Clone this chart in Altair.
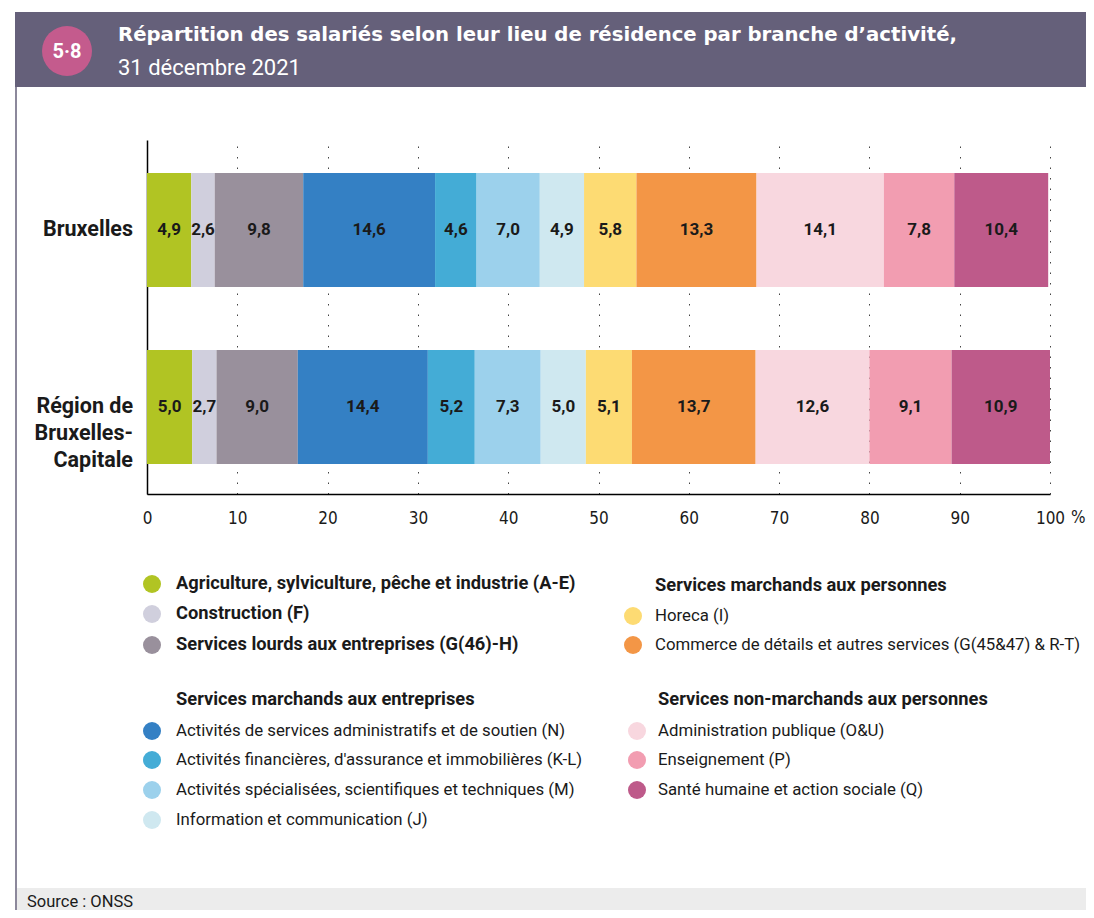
import altair as alt
import pandas as pd

# ---------------- data ----------------
regions = ["Bruxelles", "Région de\nBruxelles-\nCapitale"]
branches = [
    "Agriculture, sylviculture, pêche et industrie (A-E)",
    "Construction (F)",
    "Services lourds aux entreprises (G(46)-H)",
    "Activités de services administratifs et de soutien (N)",
    "Activités financières, d'assurance et immobilières (K-L)",
    "Activités spécialisées, scientifiques et techniques (M)",
    "Information et communication (J)",
    "Horeca (I)",
    "Commerce de détails et autres services (G(45&47) & R-T)",
    "Administration publique (O&U)",
    "Enseignement (P)",
    "Santé humaine et action sociale (Q)",
]
colors = [
    "#b1c423", "#d0cfdd", "#99909c",
    "#3480c4", "#44acd6", "#9cd1ec", "#cfe8f0",
    "#fddb73", "#f39646",
    "#f8d7df", "#f29db1", "#be5a8a",
]
values_bruxelles = [4.9, 2.6, 9.8, 14.6, 4.6, 7.0, 4.9, 5.8, 13.3, 14.1, 7.8, 10.4]
values_region = [5.0, 2.7, 9.0, 14.4, 5.2, 7.3, 5.0, 5.1, 13.7, 12.6, 9.1, 10.9]
group_titles = [
    "Services marchands aux entreprises",
    "Services marchands aux personnes",
    "Services non-marchands aux personnes",
]
x_ticks = list(range(0, 101, 10))

title_main = "Répartition des salariés selon leur lieu de résidence par branche d’activité,"
title_sub = "31 décembre 2021"
badge = "5·8"
source = "Source : ONSS"

# ---------------- tables ----------------
rows = []
for reg, vals in zip(regions, [values_bruxelles, values_region]):
    for i, (b, v) in enumerate(zip(branches, vals)):
        rows.append({"region": reg, "branch": b, "order": i, "value": v})
df = pd.DataFrame(rows)

FONT = "Roboto, 'Liberation Sans', sans-serif"
TITLE_FONT = "'DejaVu Sans', sans-serif"
NARROW = "'DejaVu Sans Condensed', sans-serif"
INK = "#1a1a1a"

# page -> chart coordinates (plot origin at page x=147, y=140)
def cx(px):
    return px - 147

def cy(py):
    return py - 140

W, H = 903, 354
TOTAL_W, TOTAL_H = 1078, 902
PAD = {"left": 139, "top": 132, "right": TOTAL_W - 139 - W, "bottom": TOTAL_H - 132 - H}
RIGHT_EDGE = TOTAL_W - 139

xscale = alt.Scale(domain=[0, 100], nice=False, zero=True)
yscale = alt.Scale(type="band", domain=regions, paddingInner=0.356, paddingOuter=0.178, align=0.524)
cscale = alt.Scale(domain=branches, range=colors)

one = pd.DataFrame({"a": [0]})

# ---------------- decorations ----------------
header = alt.Chart(one).mark_rect(color="#65607a").encode(
    x=alt.value(cx(15)), x2=alt.value(RIGHT_EDGE), y=alt.value(cy(12)), y2=alt.value(cy(87))
)
border = alt.Chart(one).mark_rule(color="#8c889b", strokeWidth=2).encode(
    x=alt.value(cx(16)), y=alt.value(cy(87)), y2=alt.value(cy(930))
)
footer = alt.Chart(one).mark_rect(color="#ececec").encode(
    x=alt.value(cx(17)), x2=alt.value(RIGHT_EDGE), y=alt.value(cy(888)), y2=alt.value(cy(930))
)
source_txt = alt.Chart(one).mark_text(
    align="left", baseline="middle", font=FONT, fontSize=16.5, color=INK
).encode(x=alt.value(cx(27)), y=alt.value(cy(902)), text=alt.value(source))
badge_circle = alt.Chart(one).mark_point(
    shape="circle", filled=True, opacity=1, size=2500, color="#c45b8d"
).encode(x=alt.value(cx(67)), y=alt.value(cy(51)))
badge_txt = alt.Chart(one).mark_text(
    align="center", baseline="middle", font=FONT, fontSize=20, fontWeight="bold", color="white"
).encode(x=alt.value(cx(67)), y=alt.value(cy(52)), text=alt.value(badge))
title1 = alt.Chart(one).mark_text(
    align="left", baseline="middle", font=TITLE_FONT, fontSize=19.7, fontWeight="bold", color="white"
).encode(x=alt.value(cx(118)), y=alt.value(cy(35)), text=alt.value(title_main))
title2 = alt.Chart(one).mark_text(
    align="left", baseline="middle", font=FONT, fontSize=22, color="white"
).encode(x=alt.value(cx(118)), y=alt.value(cy(68)), text=alt.value(title_sub))
pct = alt.Chart(one).mark_text(
    align="left", baseline="top", font=NARROW, fontSize=17, color=INK
).encode(x=alt.value(cx(1071)), y=alt.value(H + 16), text=alt.value("%"))

# ---------------- bars ----------------
base = alt.Chart(df).transform_stack(
    stack="value", groupby=["region"], sort=[alt.SortField("order", order="ascending")], as_=["x0", "x1"]
).transform_calculate(
    mid="(datum.x0 + datum.x1) / 2",
    lbl="replace(format(datum.value, '.1f'), '.', ',')",
)

bars = base.mark_bar(stroke=None).encode(
    x=alt.X(
        "x0:Q", scale=xscale,
        axis=alt.Axis(
            values=x_ticks, grid=True, gridDash=[1.5, 9], gridColor="#444", gridWidth=1,
            ticks=False, domain=True, domainColor="black", domainWidth=1.5,
            labelFont=NARROW, labelFontSize=17, labelColor=INK, labelPadding=16,
            labelFlush=False, title=None,
        ),
    ),
    x2="x1:Q",
    y=alt.Y(
        "region:N", scale=yscale,
        axis=alt.Axis(labels=False, ticks=False, domain=True, domainColor="black",
                      domainWidth=1.5, grid=False, title=None),
    ),
    color=alt.Color("branch:N", scale=cscale, legend=None),
)

values = base.mark_text(
    font=FONT, fontSize=17, fontWeight="bold", color=INK, baseline="middle", align="center"
).encode(
    x=alt.X("mid:Q", scale=xscale, axis=None),
    y=alt.Y("region:N", scale=yscale, axis=None),
    text="lbl:N",
)

ylabels = alt.Chart(pd.DataFrame({"region": regions})).mark_text(
    align="right", baseline="middle", font=FONT, fontSize=21.5, fontWeight="bold",
    color=INK, lineBreak="\n", lineHeight=27,
).encode(
    x=alt.value(-14),
    y=alt.Y("region:N", scale=yscale, axis=None),
    text="region:N",
)

# ---------------- legend ----------------
# layout: (circle x, text x, y) in page pixels for each branch
item_pos = [
    (152, 176, 584), (152, 176, 614), (152, 176, 645),
    (152, 176, 731), (152, 176, 760), (152, 176, 790), (152, 176, 820),
    (633, 655, 616), (633, 655, 645),
    (637, 658, 731), (637, 658, 760), (637, 658, 790),
]
head_pos = [(176, 700), (655, 586), (658, 700)]

leg = pd.DataFrame({
    "branch": branches,
    "ccx": [cx(p[0]) for p in item_pos],
    "tx": [cx(p[1]) for p in item_pos],
    "ty": [cy(p[2]) for p in item_pos],
    "bold": [i < 3 for i in range(len(branches))],
})
heads = pd.DataFrame({
    "label": group_titles,
    "tx": [cx(p[0]) for p in head_pos],
    "ty": [cy(p[1]) for p in head_pos],
})

leg_circles = alt.Chart(leg).mark_point(shape="circle", filled=True, opacity=1, size=324).encode(
    x=alt.X("ccx:Q", scale=None, axis=None),
    y=alt.Y("ty:Q", scale=None, axis=None),
    color=alt.Color("branch:N", scale=cscale, legend=None),
)
leg_bold = alt.Chart(leg).transform_filter("datum.bold").mark_text(
    align="left", baseline="middle", font=FONT, fontSize=18.3, fontWeight="bold", color=INK
).encode(
    x=alt.X("tx:Q", scale=None, axis=None),
    y=alt.Y("ty:Q", scale=None, axis=None),
    text="branch:N",
)
leg_norm = alt.Chart(leg).transform_filter("!datum.bold").mark_text(
    align="left", baseline="middle", font=FONT, fontSize=16.8, color=INK
).encode(
    x=alt.X("tx:Q", scale=None, axis=None),
    y=alt.Y("ty:Q", scale=None, axis=None),
    text="branch:N",
)
leg_heads = alt.Chart(heads).mark_text(
    align="left", baseline="middle", font=FONT, fontSize=18.3, fontWeight="bold", color=INK
).encode(
    x=alt.X("tx:Q", scale=None, axis=None),
    y=alt.Y("ty:Q", scale=None, axis=None),
    text="label:N",
)

chart = alt.layer(
    header, border, footer, source_txt, badge_circle, badge_txt, title1, title2,
    bars, values, ylabels, pct,
    leg_circles, leg_bold, leg_norm, leg_heads,
).resolve_scale(
    x="independent", y="independent"
).properties(
    width=W, height=H,
    autosize=alt.AutoSizeParams(type="none"),
    padding=PAD,
    background="white",
).configure_view(stroke=None)

chart.save("out.html", embed_options={"renderer": "svg", "actions": False})
